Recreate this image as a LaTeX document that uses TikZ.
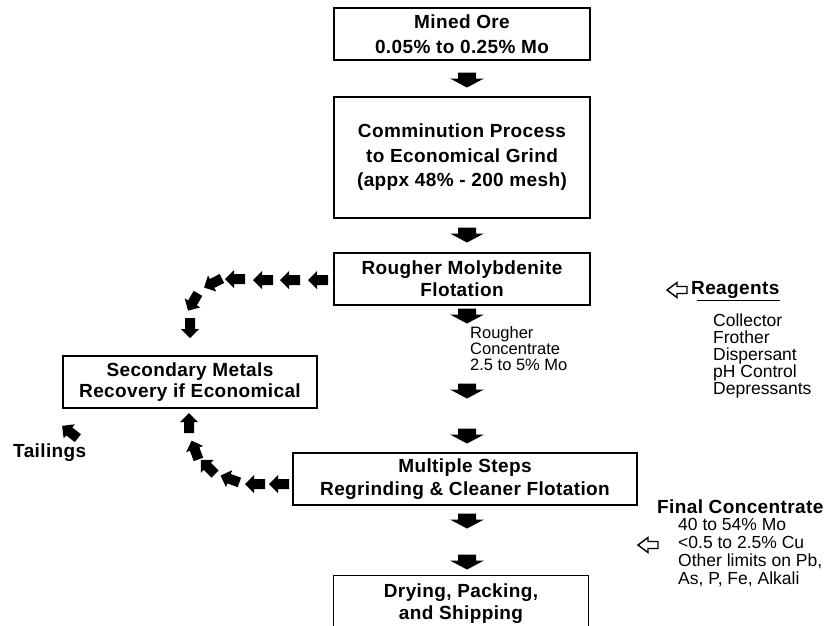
\documentclass[tikz,border=0pt]{standalone}
\usepackage{fontspec}
\setmainfont{Liberation Sans}[BoldFeatures={LetterSpace=2.0}]
\usetikzlibrary{calc}
\usetikzlibrary{positioning}

\tikzset{
  stage/.style={draw, line width=1.2pt, align=center, inner sep=0pt, font=\bfseries\fontsize{19}{23}\selectfont},
  headline/.style={inner sep=0pt, font=\bfseries\fontsize{19}{23}\selectfont},
  note/.style={align=left, inner sep=0pt, font=\fontsize{17.5}{17}\selectfont},
  downarrow/.pic={\fill (-7.5,-9) -- (-1.5,-9) -- (-1.5,-17) -- (7.5,0) -- (-1.5,17) -- (-1.5,9) -- (-7.5,9) -- cycle;},
  chainarrow/.pic={\fill (-10,-5) -- (1,-5) -- (1,-9) -- (10,0) -- (1,9) -- (1,5) -- (-10,5) -- cycle;},
  openarrow/.pic={\draw[line width=1.4pt, line join=miter] (-10,-3.5) -- (0,-3.5) -- (0,-7.5) -- (10,0) -- (0,7.5) -- (0,3.5) -- (-10,3.5) -- cycle;}
}

\begin{document}
\begin{tikzpicture}[x=1pt, y=-1pt]
    \clip (0,0) rectangle (832,625);

    \node[stage, minimum width=256, minimum height=52, font=\bfseries\fontsize{19}{25}\selectfont] (ore) at (462,34) {Mined Ore\\0.05\% to 0.25\% Mo};
    \node[stage, minimum width=256, minimum height=121, font=\bfseries\fontsize{19}{24.5}\selectfont] (grind) at (462,157.5) {Comminution Process\\to Economical Grind\\(appx 48\% - 200 mesh)};
    \node[stage, minimum width=256, minimum height=52, font=\bfseries\fontsize{19}{22}\selectfont] (rougher) at (462,279) {Rougher Molybdenite\\Flotation};
    \node[stage, minimum width=254, minimum height=52, font=\bfseries\fontsize{19}{21.5}\selectfont] (secondary) at (190,382) {Secondary Metals\\Recovery if Economical};
    \node[stage, minimum width=344, minimum height=52] (cleaner) at (465,479) {Multiple Steps\\Regrinding \& Cleaner Flotation};
    \node[stage, minimum width=255, inner ysep=8.5pt, anchor=north, font=\bfseries\fontsize{19}{22}\selectfont] (drying) at (461,575) {Drying, Packing,\\and Shipping};

    \foreach \py in {80,235,316,391,436,521,562}
        \pic[rotate=-90] at (467,\py) {downarrow};

    \node[note, anchor=west, font=\fontsize{16.5}{16}\selectfont] (roughconc) at (470,348.5) {Rougher\\Concentrate\\2.5 to 5\% Mo};

    \foreach \px/\py/\ang in {318/280/180, 290/280/180, 263/280/180, 235/279/180, 213/283/207, 193/302/240, 190/328/270}
        \pic[rotate=\ang] at (\px,\py) {chainarrow};
    \foreach \px/\py/\ang in {279/484/180, 255/484/180, 230/479/160, 208/467/135, 195/450/110, 189/423/90}
        \pic[rotate=\ang] at (\px,\py) {chainarrow};

    \pic[rotate=142] at (70,432) {chainarrow};
    \node[headline, anchor=west] (tailings) at (13,453) {Tailings};

    \pic[rotate=180] at (677,290) {openarrow};
    \node[headline, anchor=west] (reagents) at (691,290) {Reagents};
    \draw[line width=1.2pt] ($(reagents.base west)+(6,6)$) -- ($(reagents.base east)+(0,6)$);
    \node[note, anchor=west] (reagentlist) at (713,356) {Collector\\Frother\\Dispersant\\pH Control\\Depressants};

    \node[headline, anchor=west] (final) at (657,507) {Final Concentrate};
    \pic[rotate=180] at (648,545) {openarrow};
    \node[note, anchor=west, font=\fontsize{17.5}{18.3}\selectfont] (finallist) at (678,552.5) {40 to 54\% Mo\\<0.5 to 2.5\% Cu\\Other limits on Pb,\\As, P, Fe, Alkali};
\end{tikzpicture}
\end{document}
